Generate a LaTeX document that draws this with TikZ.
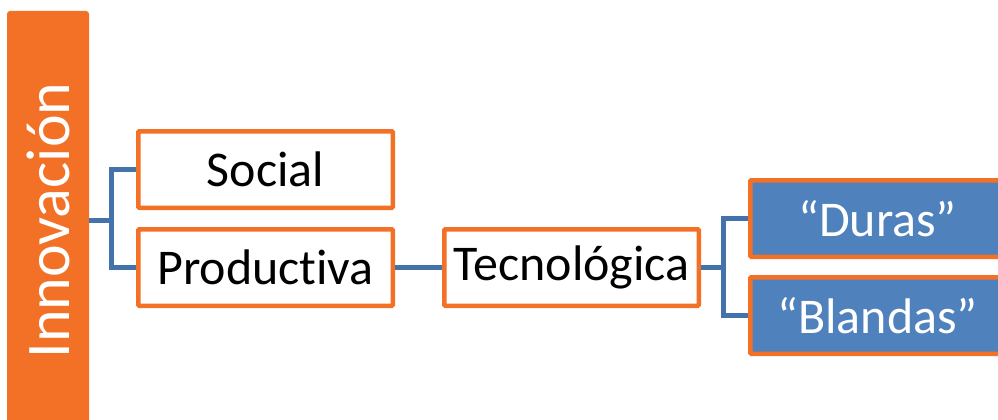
\documentclass[tikz,border=0pt]{standalone}
\usepackage{fontspec}
\setmainfont{Carlito}[Ligatures=NoCommon]
\usepackage{tikz}
\usetikzlibrary{positioning}
\definecolor{naranja}{RGB}{242,113,39}
\definecolor{azul}{RGB}{79,129,189}
\definecolor{linea}{RGB}{68,114,170}
\tikzset{every picture/.style={
  line join=miter               % Joins of the connectors.
  }
}

\begin{document}
\begin{tikzpicture}[x=1pt,y=-1pt,
    rama/.style={               % Boxes with an orange frame.
      rectangle,
      draw=naranja,
      fill=white,
      line width=4.5pt,
      rounded corners=1pt,
      minimum width=254.5pt,
      minimum height=76.5pt,
      font=\fontsize{50}{60}\selectfont
    },
    hoja/.style={               % Blue boxes on the right.
      rama,
      fill=azul,
      text=white
    },
    eje/.style={                % The orange bar on the left.
      rectangle,
      fill=naranja,
      rounded corners=3pt,
      minimum width=82pt,
      minimum height=419pt,
      text=white,
      font=\fontsize{62}{70}\selectfont
    },
    enlace/.style={             % Blue connectors.
      draw=linea,
      line width=5pt
    }]

    \useasboundingbox (0,0) rectangle (998,420);

    % The bar and the first level.
    \node[eje] (inno) at (48,220.5) {\rotatebox{90}{Innovación}};
    \node[rama] (social) at (265.5,169.5) {Social};
    \node[rama] (productiva) [below=17pt of social] {Productiva};

    % The second and third levels.
    \node[rama] (tecno) [right=47pt of productiva] {Tecnológica};
    \node[hoja] (duras) [right=47pt of tecno,yshift=49pt] {“Duras”};
    \node[hoja] (blandas) [below=16pt of duras] {“Blandas”};

    % Connect the levels.
    \draw[enlace] (social.west) -- ++(-25,0) |- (inno.east);
    \draw[enlace] (productiva.west) -- ++(-25,0) |- (inno.east);
    \draw[enlace] (productiva) -- (tecno);
    \draw[enlace] (duras.west) -- ++(-25,0) |- (tecno.east);
    \draw[enlace] (blandas.west) -- ++(-25,0) |- (tecno.east);
  \end{tikzpicture}
\end{document}
